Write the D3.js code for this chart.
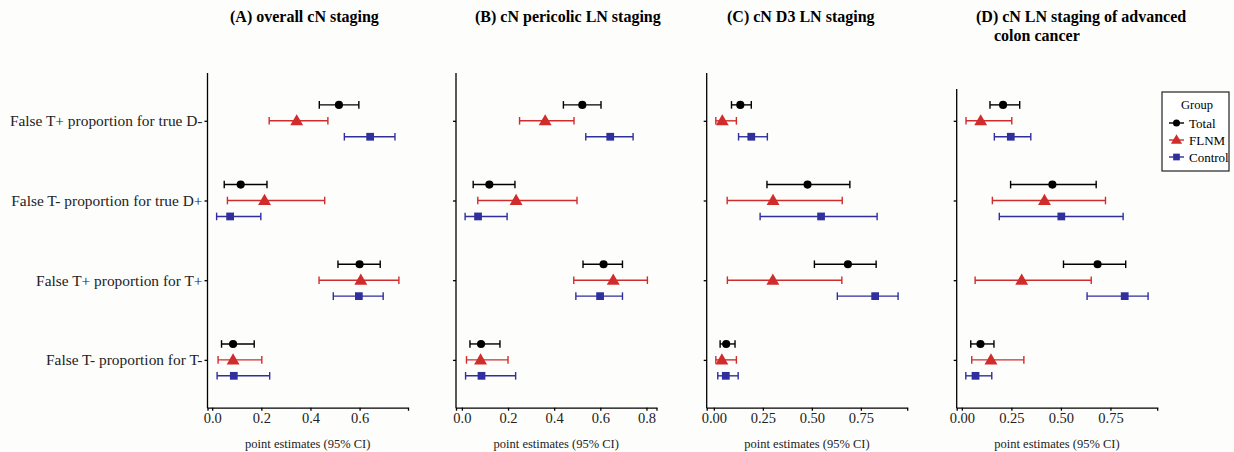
<!DOCTYPE html>
<html lang="en">
  <head>
    <meta charset="utf-8"/>
    <style>
      body {
        margin: 0;
        background: #fff;
      }
      .axis path,
      .axis line {
        fill: none;
        stroke: #000;
        stroke-width: 1.3px;
      }
      .axis text {
        font-family: "Liberation Serif", serif;
        fill: #222;
      }
      .title {
        font-family: "Liberation Serif", serif;
        font-weight: bold;
        font-size: 16px;
      }
      .xlabel {
        font-family: "Liberation Serif", serif;
        font-size: 12.5px;
        fill: #222;
      }
    </style>
    <script src="https://cdn.jsdelivr.net/npm/d3@7"></script>
  </head>
  <body>
    <script type="text/javascript">
      // data
      var categories = ["False T+ proportion for true D-", "False T- proportion for true D+",
                        "False T+ proportion for T+", "False T- proportion for T-"];
      var groups = ["Total", "FLNM", "Control"];
      var titles = [["(A) overall cN staging"], ["(B) cN pericolic LN staging"],
                    ["(C) cN D3 LN staging"], ["(D) cN LN staging of advanced", "colon cancer"]];
      var ticksA = [0, 0.2, 0.4, 0.6];
      var ticksB = [0, 0.2, 0.4, 0.6, 0.8];
      var ticksC = [0, 0.25, 0.5, 0.75];
      var ticksD = [0, 0.25, 0.5, 0.75];

      // per panel: rows = Total, FLNM, Control; columns follow categories
      var estA = [[0.516, 0.116, 0.600, 0.085], [0.344, 0.213, 0.605, 0.085], [0.643, 0.073, 0.597, 0.088]];
      var loA  = [[0.436, 0.049, 0.512, 0.038], [0.232, 0.062, 0.435, 0.024], [0.538, 0.018, 0.493, 0.020]];
      var hiA  = [[0.597, 0.223, 0.684, 0.171], [0.471, 0.458, 0.760, 0.202], [0.744, 0.198, 0.696, 0.234]];

      var estB = [[0.522, 0.119, 0.614, 0.083], [0.361, 0.235, 0.656, 0.081], [0.643, 0.070, 0.599, 0.085]];
      var loB  = [[0.440, 0.049, 0.525, 0.035], [0.250, 0.069, 0.485, 0.020], [0.537, 0.014, 0.494, 0.016]];
      var hiB  = [[0.603, 0.230, 0.696, 0.165], [0.486, 0.499, 0.804, 0.200], [0.742, 0.196, 0.696, 0.233]];

      var estC = [[0.135, 0.478, 0.684, 0.063], [0.043, 0.302, 0.301, 0.041], [0.191, 0.547, 0.823, 0.061]];
      var loC  = [[0.090, 0.271, 0.513, 0.032], [0.010, 0.068, 0.069, 0.010], [0.126, 0.236, 0.630, 0.020]];
      var hiC  = [[0.191, 0.694, 0.828, 0.108], [0.115, 0.655, 0.653, 0.115], [0.273, 0.833, 0.940, 0.124]];

      var estD = [[0.208, 0.457, 0.685, 0.094], [0.095, 0.417, 0.302, 0.147], [0.247, 0.502, 0.822, 0.069]];
      var loD  = [[0.142, 0.246, 0.513, 0.045], [0.021, 0.154, 0.067, 0.050], [0.164, 0.189, 0.632, 0.020]];
      var hiD  = [[0.292, 0.678, 0.827, 0.162], [0.252, 0.725, 0.653, 0.313], [0.348, 0.814, 0.940, 0.151]];

      // layout
      var w = 1234, h = 452;
      var plotTop = 73, plotBottom = 407.7;
      var panelW = 200.5;
      var colors = ["#000000", "#d12c2c", "#2f2f9e"];
      var symbols = [d3.symbolCircle, d3.symbolTriangle, d3.symbolSquare];
      var symSize = [52, 72, 60];

      var panels = [
        {est: estA, lo: loA, hi: hiA, ticks: ticksA, fmt: d3.format(".1f"), left: 207.5, axTop: plotTop, tx: 230},
        {est: estB, lo: loB, hi: hiB, ticks: ticksB, fmt: d3.format(".1f"), left: 456, axTop: plotTop, tx: 475},
        {est: estC, lo: loC, hi: hiC, ticks: ticksC, fmt: d3.format(".2f"), left: 706.7, axTop: plotTop, tx: 727},
        {est: estD, lo: loD, hi: hiD, ticks: ticksD, fmt: d3.format(".2f"), left: 956.7, axTop: 89, tx: 976}
      ];

      var svg = d3.select("body")
                  .append("svg")
                  .attr("width", w)
                  .attr("height", h);

      svg.append("rect").attr("width", w).attr("height", h).attr("fill", "#fdfdfc");

      var yScale = d3.scalePoint()
                     .domain(categories)
                     .range([plotTop, plotBottom])
                     .padding(0.6);
      var dodge = yScale.step() * 0.2;

      panels.forEach(function(p, k) {
        var ext = d3.extent(d3.merge(p.lo.concat(p.hi)));
        var pad = (ext[1] - ext[0]) * 0.05;
        var xScale = d3.scaleLinear()
                       .domain([ext[0] - pad, ext[1] + pad])
                       .range([p.left, p.left + panelW]);

        var g = svg.append("g");

        // x axis
        g.append("g")
         .attr("class", "axis")
         .attr("transform", "translate(0," + plotBottom + ")")
         .call(d3.axisBottom(xScale).tickValues(p.ticks).tickFormat(p.fmt)
                 .tickSizeOuter(0).tickSize(3).tickPadding(2))
         .selectAll("text")
         .attr("font-size", "14.5px");

        // y axis
        var yAxis = g.append("g")
         .attr("class", "axis")
         .attr("transform", "translate(" + p.left + ",0)")
         .call(d3.axisLeft(yScale).tickSize(3).tickSizeOuter(0).tickPadding(2));
        yAxis.select(".domain").remove();
        yAxis.append("line")
             .attr("x1", 0).attr("x2", 0)
             .attr("y1", p.axTop).attr("y2", plotBottom + 0.6);
        if (k === 0) {
          yAxis.selectAll("text").attr("font-size", "15.4px").attr("fill", "#111");
        } else {
          yAxis.selectAll("text").remove();
        }

        // error bars and points
        groups.forEach(function(gr, j) {
          var rows = categories.map(function(c, i) {
            return {c: c, est: p.est[j][i], lo: p.lo[j][i], hi: p.hi[j][i]};
          });
          var off = (j - 1) * dodge;
          var eg = g.append("g").attr("stroke", colors[j]).attr("fill", colors[j]);
          eg.selectAll("line.bar")
            .data(rows).enter().append("line")
            .attr("x1", function(d) { return xScale(d.lo); })
            .attr("x2", function(d) { return xScale(d.hi); })
            .attr("y1", function(d) { return yScale(d.c) + off; })
            .attr("y2", function(d) { return yScale(d.c) + off; })
            .attr("stroke-width", 1.4);
          ["lo", "hi"].forEach(function(key) {
            eg.selectAll("line.cap" + key)
              .data(rows).enter().append("line")
              .attr("x1", function(d) { return xScale(d[key]); })
              .attr("x2", function(d) { return xScale(d[key]); })
              .attr("y1", function(d) { return yScale(d.c) + off - 3.8; })
              .attr("y2", function(d) { return yScale(d.c) + off + 3.8; })
              .attr("stroke-width", 1.4);
          });
          eg.selectAll("path.pt")
            .data(rows).enter().append("path")
            .attr("stroke", "none")
            .attr("d", d3.symbol().type(symbols[j]).size(symSize[j]))
            .attr("transform", function(d) {
              return "translate(" + xScale(d.est) + "," + (yScale(d.c) + off + (j === 1 ? 0.8 : 0)) + ")";
            });
        });

        // x label
        g.append("text")
         .attr("class", "xlabel")
         .attr("x", p.left + panelW / 2)
         .attr("y", 448)
         .attr("text-anchor", "middle")
         .text("point estimates (95% CI)");

        // title
        titles[k].forEach(function(t, i) {
          g.append("text")
           .attr("class", "title")
           .attr("x", p.tx + (i > 0 ? 18 : 0))
           .attr("y", 22 + i * 19)
           .text(t);
        });
      });

      // legend
      var lg = svg.append("g").attr("transform", "translate(1162,92)");
      lg.append("rect")
        .attr("width", 67).attr("height", 79)
        .attr("fill", "#fff").attr("stroke", "#222").attr("stroke-width", 1.2);
      lg.append("text")
        .attr("x", 35).attr("y", 17)
        .attr("text-anchor", "middle")
        .attr("font-family", "Liberation Serif, serif")
        .attr("font-size", "12.5px")
        .text("Group");
      groups.forEach(function(gr, j) {
        var yy = 31 + j * 17;
        lg.append("line")
          .attr("x1", 7).attr("x2", 22).attr("y1", yy).attr("y2", yy)
          .attr("stroke", colors[j]).attr("stroke-width", 1.4);
        lg.append("path")
          .attr("d", d3.symbol().type(symbols[j]).size(symSize[j] * 0.75))
          .attr("transform", "translate(14.5," + (yy + (j === 1 ? 0.6 : 0)) + ")")
          .attr("fill", colors[j]);
        lg.append("text")
          .attr("x", 27).attr("y", yy + 4.5)
          .attr("font-family", "Liberation Serif, serif")
          .attr("font-size", "13px")
          .text(gr);
      });
    </script>
  </body>
</html>
